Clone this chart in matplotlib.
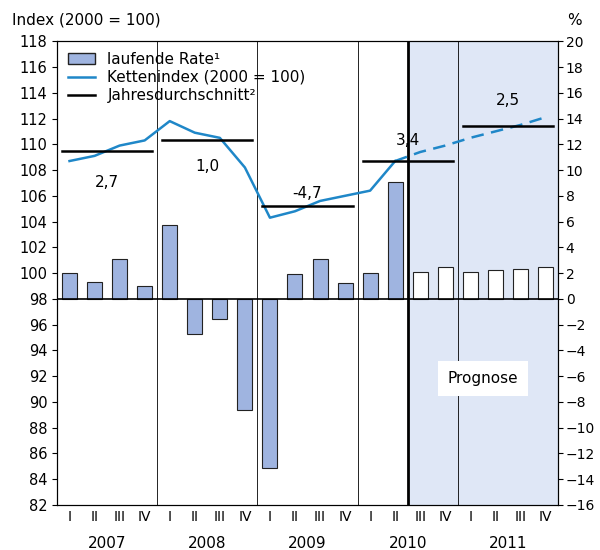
import matplotlib
matplotlib.use('Agg')
import matplotlib.pyplot as plt
from matplotlib.lines import Line2D
from matplotlib.patches import Patch

quarters = ['I', 'II', 'III', 'IV'] * 5
years = ['2007', '2008', '2009', '2010', '2011']
rate = [2.0, 1.3, 3.1, 1.0, 5.7, -2.7, -1.6, -8.6, -13.1, 1.9, 3.1, 1.2,
        2.0, 9.1, 2.1, 2.5, 2.1, 2.2, 2.3, 2.5]
index_actual = [108.7, 109.1, 109.9, 110.3, 111.8, 110.9, 110.5, 108.2,
                104.3, 104.8, 105.6, 106.0, 106.4, 108.7]
index_forecast = [108.7, 109.4, 109.9, 110.5, 111.0, 111.5, 112.1]
annual_avg = [109.5, 110.3, 105.2, 108.7, 111.4]
annual_rate = ['2,7', '1,0', '-4,7', '3,4', '2,5']
label_y = [107.0, 108.3, 106.2, 110.3, 113.4]

fig = plt.figure(figsize=(6, 5.5), dpi=100)
ax = fig.add_axes([0.095, 0.082, 0.835, 0.843])
ax.set_xlim(-0.5, 19.5)
ax.set_ylim(82, 118)
ax.axvspan(13.5, 19.5, color='#dfe7f6', zorder=0)

# bars on right axis (right = left - 98)
for i, r in enumerate(rate):
    face = '#9fb4e0' if i < 14 else 'white'
    ax.bar(i, r, bottom=98, width=0.6, color=face, edgecolor='#222222', linewidth=0.8, zorder=2)

ax.axhline(98, color='black', linewidth=1.2, zorder=3)
for b in [3.5, 7.5, 11.5, 15.5]:
    ax.axvline(b, color='black', linewidth=0.6, zorder=1)
ax.axvline(13.5, color='black', linewidth=2, zorder=4)

ax.plot(range(14), index_actual, color='#1f87c8', linewidth=1.8, zorder=5)
ax.plot(range(13, 20), index_forecast, color='#1f87c8', linewidth=1.8, linestyle=(0, (5, 3)), zorder=5)

for k, (avg, lab, ly) in enumerate(zip(annual_avg, annual_rate, label_y)):
    ax.plot([4 * k - 0.3, 4 * k + 3.3], [avg, avg], color='black', linewidth=1.8, zorder=6)
    ax.text(4 * k + 1.5, ly, lab, ha='center', va='center', fontsize=11)

ax.text(16.5, 91.8, 'Prognose', ha='center', va='center', fontsize=11,
        bbox=dict(facecolor='white', edgecolor='none', pad=7))

ax.set_yticks(range(82, 119, 2))
ax.set_xticks(range(20))
ax.set_xticklabels(quarters, fontsize=10)
ax.tick_params(axis='x', length=0, pad=4)
ax.tick_params(axis='y', labelsize=10.5, direction='out')
for k, y in enumerate(years):
    ax.text(4 * k + 1.5, -0.068, y, transform=ax.get_xaxis_transform(), ha='center', va='top', fontsize=11)

ax2 = ax.twinx()
ax2.set_ylim(-16, 20)
ax2.set_yticks(range(-16, 21, 2))
ax2.tick_params(axis='y', labelsize=10, pad=2)

fig.text(0.02, 0.955, 'Index (2000 = 100)', fontsize=11)
fig.text(0.945, 0.955, '%', fontsize=11)

handles = [Patch(facecolor='#9fb4e0', edgecolor='#222222', label='laufende Rate¹'),
           Line2D([], [], color='#1f87c8', linewidth=1.8, label='Kettenindex (2000 = 100)'),
           Line2D([], [], color='black', linewidth=1.8, label='Jahresdurchschnitt²')]
ax.legend(handles=handles, loc='upper left', frameon=False, fontsize=11,
          handlelength=1.8, borderaxespad=0.3, labelspacing=0.2)

fig.savefig('out.png')
